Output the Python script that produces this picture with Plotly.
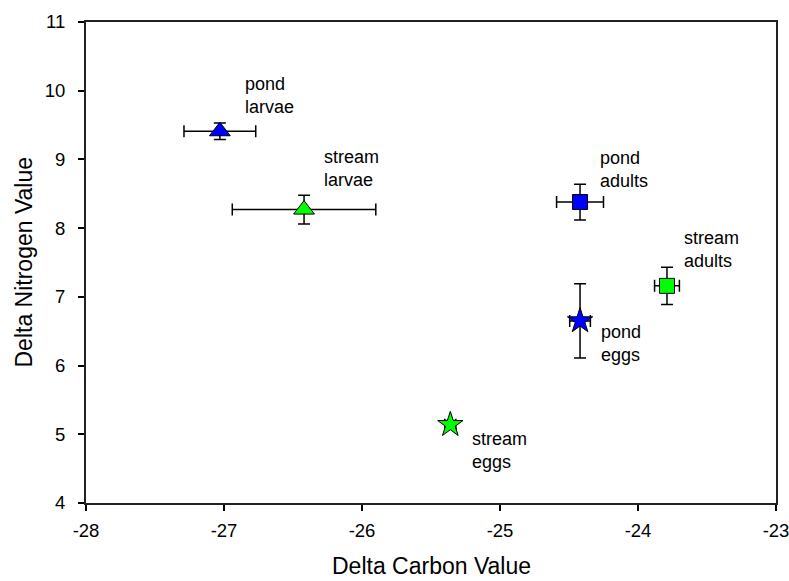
import plotly.graph_objects as go

# ---- data ----
groups = ["pond larvae", "stream larvae", "pond adults", "stream adults", "pond eggs", "stream eggs"]
carbon = [-27.03, -26.42, -24.42, -23.79, -24.42, -25.36]
carbon_err = [0.26, 0.52, 0.17, 0.09, 0.075, 0.04]
nitrogen = [9.41, 8.27, 8.38, 7.16, 6.65, 5.14]
nitrogen_err = [0.12, 0.21, 0.26, 0.27, 0.54, 0.06]
symbols = ["triangle-up", "triangle-up", "square", "square", "star", "star"]
colors = ["#0000ff", "#00ff00", "#0000ff", "#00ff00", "#0000ff", "#00ff00"]
sizes = [18, 18, 15, 15, 19, 19]

label_text = ["pond<br>larvae", "stream<br>larvae", "pond<br>adults", "stream<br>adults", "pond<br>eggs", "stream<br>eggs"]
label_x = [-26.86, -26.29, -24.29, -23.68, -24.28, -25.22]
label_y = [9.93, 8.87, 8.85, 7.69, 6.32, 4.76]

x_ticks = [-28, -27, -26, -25, -24, -23]
y_ticks = [4, 5, 6, 7, 8, 9, 10, 11]

FONT = "Liberation Sans, Arial, sans-serif"

fig = go.Figure()
for i in range(len(groups)):
    fig.add_trace(go.Scatter(
        x=[carbon[i]], y=[nitrogen[i]], mode="markers", name=groups[i],
        marker=dict(symbol=symbols[i], color=colors[i], size=sizes[i],
                    line=dict(color="black", width=1)),
        error_x=dict(type="data", array=[carbon_err[i]], color="black", thickness=1.5, width=6),
        error_y=dict(type="data", array=[nitrogen_err[i]], color="black", thickness=1.5, width=6),
        showlegend=False,
    ))

for t, x, y in zip(label_text, label_x, label_y):
    fig.add_annotation(x=x, y=y, text=t, showarrow=False, xanchor="left", yanchor="middle",
                       align="left", font=dict(family=FONT, size=18, color="black"))

fig.add_annotation(xref="paper", yref="paper", x=0.5, y=-0.131, text="Delta Carbon Value",
                   showarrow=False, xanchor="center", yanchor="middle",
                   font=dict(family=FONT, size=23, color="black"))
fig.add_annotation(xref="paper", yref="paper", x=-0.0913, y=0.5, text="Delta Nitrogen Value",
                   showarrow=False, xanchor="center", yanchor="middle", textangle=-90,
                   font=dict(family=FONT, size=23, color="black"))

axis_common = dict(showgrid=False, zeroline=False, showline=True, linecolor="#222222", linewidth=2,
                   mirror=True, ticks="outside", ticklen=6, tickwidth=1.5, tickcolor="black",
                   automargin=False, ticklabeloverflow="allow",
                   tickfont=dict(family=FONT, size=18.5, color="black"))
fig.update_xaxes(range=[-28, -23], tickvals=x_ticks, ticktext=[str(v) for v in x_ticks],
                 ticklabelstandoff=4, **axis_common)
fig.update_yaxes(range=[4, 11], tickvals=y_ticks, ticktext=[str(v) for v in y_ticks],
                 ticklabelstandoff=9, **axis_common)

fig.update_layout(width=789, height=581, margin=dict(l=86, r=13, t=22, b=78),
                  plot_bgcolor="white", paper_bgcolor="white",
                  font=dict(family=FONT, color="black"))

# remove the default page margin so the figure sits at the window's top-left corner
fig.write_html(
    "out.html",
    config={"displayModeBar": False},
    post_script="document.body.style.margin='0';document.body.style.overflow='hidden';"
                "document.documentElement.style.overflow='hidden';",
)
